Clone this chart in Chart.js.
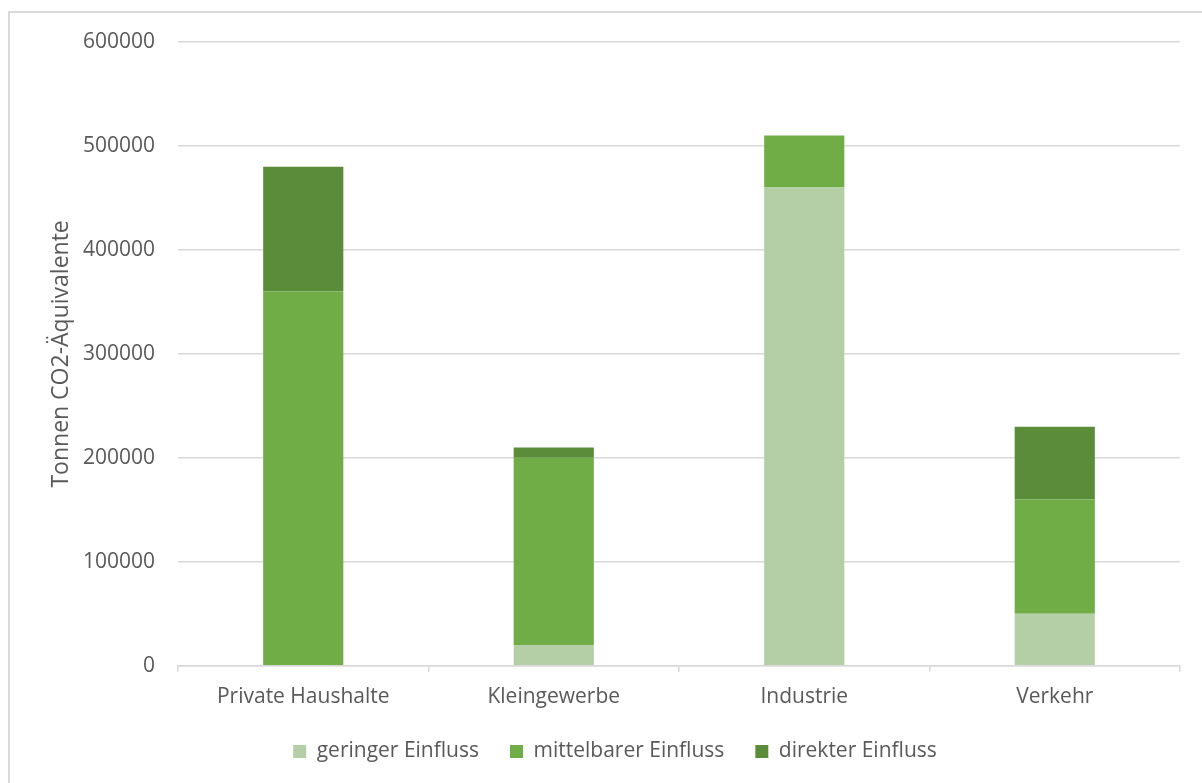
<!DOCTYPE html>
<html>
<head>
<meta charset="utf-8">
<script src="https://cdn.jsdelivr.net/npm/chart.js@4"></script>
<style>
  html, body { margin: 0; padding: 0; background: #fff; }
  #wrap { width: 1202px; height: 783px; position: relative; }
</style>
</head>
<body>
<div id="wrap"><canvas id="co2Chart"></canvas></div>
<script>
const sectors = ["Private Haushalte", "Kleingewerbe", "Industrie", "Verkehr"];
const geringer = [0, 20000, 460000, 50000];
const mittelbar = [360000, 180000, 50000, 110000];
const direkt = [120000, 10000, 0, 70000];
const yTicks = [0, 100000, 200000, 300000, 400000, 500000, 600000];

const textGrey = "#595959";
const gridGrey = "#d9d9d9";
const family = "'Open Sans', 'Noto Sans', sans-serif";
const font = { family: family, size: 21 };

// thin grey frame round the chart (top + left edge)
const framePlugin = {
  id: "frame",
  beforeDraw(chart) {
    const c = chart.ctx;
    c.save();
    c.strokeStyle = "#d9d9d9";
    c.lineWidth = 2;
    c.beginPath();
    c.moveTo(9, 783);
    c.lineTo(9, 12);
    c.lineTo(1202, 12);
    c.stroke();
    c.restore();
  }
};

const barOpts = { barPercentage: 0.32, categoryPercentage: 1, borderWidth: 0 };

const data = {
  labels: sectors,
  datasets: [
    { label: "geringer Einfluss", data: geringer, backgroundColor: "#b4cfa6", ...barOpts },
    { label: "mittelbarer Einfluss", data: mittelbar, backgroundColor: "#70ad47", ...barOpts },
    { label: "direkter Einfluss", data: direkt, backgroundColor: "#5b8c3a", ...barOpts },
  ],
};

const config = {
  type: "bar",
  data: data,
  options: {
    responsive: true,
    maintainAspectRatio: false,
    animation: false,
    layout: { padding: { top: 42, right: 22, left: 50, bottom: 11 } },
    scales: {
      x: {
        stacked: true,
        afterFit: (scale) => { scale.height -= 13; },
        grid: { display: true, drawOnChartArea: false, drawTicks: true, tickLength: 6, color: gridGrey, lineWidth: 1.5, offset: true },
        border: { display: true, color: gridGrey, width: 1.5 },
        ticks: { color: textGrey, font: font, padding: 13 },
      },
      y: {
        stacked: true,
        min: 0,
        max: 600000,
        afterBuildTicks: (scale) => { scale.ticks = yTicks.map((v) => ({ value: v })); },
        afterFit: (scale) => { scale.width = 178 - 50; },
        grid: { color: gridGrey, lineWidth: 1.5, drawTicks: false },
        border: { display: false },
        ticks: { color: textGrey, font: font, padding: 23, callback: (v) => String(v) },
        title: { display: true, text: "Tonnen CO2-Äquivalente", color: textGrey, font: { family: family, size: 23, lineHeight: 1 }, padding: { top: 0, bottom: 0 } },
      },
    },
    plugins: {
      legend: {
        position: "bottom",
        labels: { color: textGrey, font: font, boxWidth: 13, boxHeight: 13, padding: 31 },
      },
      tooltip: { enabled: false },
    },
  },
  plugins: [framePlugin],
};

const ctx = document.getElementById("co2Chart").getContext("2d");
const co2Chart = new Chart(ctx, config);
</script>
</body>
</html>
